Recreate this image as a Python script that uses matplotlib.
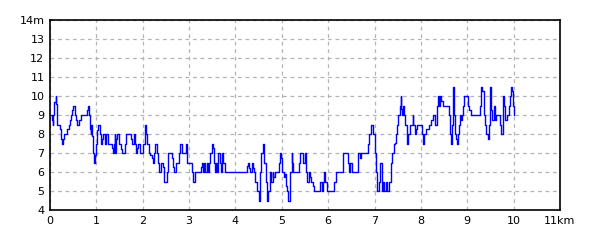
import matplotlib
matplotlib.use('Agg')
import matplotlib.pyplot as plt

# distance (km) and height (m)
dist_km = [
    0.00, 0.04, 0.06, 0.07, 0.09, 0.12, 0.13, 0.16, 0.20, 0.22, 0.23, 0.25, 0.27, 0.30, 0.34,
    0.36, 0.40, 0.42, 0.43, 0.45, 0.48, 0.50, 0.53, 0.55, 0.58, 0.61, 0.63, 0.66, 0.78, 0.80,
    0.83, 0.85, 0.86, 0.88, 0.89, 0.91, 0.92, 0.94, 0.96, 0.99, 1.01, 1.03, 1.06, 1.08, 1.11,
    1.12, 1.14, 1.18, 1.20, 1.24, 1.26, 1.32, 1.34, 1.36, 1.37, 1.40, 1.41, 1.43, 1.45, 1.49,
    1.53, 1.56, 1.60, 1.62, 1.63, 1.73, 1.75, 1.77, 1.81, 1.83, 1.86, 1.88, 1.90, 1.94, 1.99,
    2.01, 2.05, 2.07, 2.10, 2.13, 2.16, 2.19, 2.22, 2.24, 2.27, 2.30, 2.33, 2.36, 2.40, 2.43,
    2.46, 2.50, 2.52, 2.55, 2.60, 2.63, 2.65, 2.66, 2.68, 2.72, 2.76, 2.78, 2.81, 2.84, 2.88,
    2.93, 2.96, 3.05, 3.07, 3.09, 3.13, 3.22,
    3.26, 3.28, 3.30, 3.33, 3.35, 3.38, 3.40, 3.43, 3.46, 3.49, 3.52, 3.54, 3.56, 3.58, 3.61,
    3.63, 3.66, 3.68, 3.71, 3.74, 3.77, 4.20, 4.24, 4.27, 4.29, 4.32, 4.35, 4.38, 4.39, 4.43,
    4.47, 4.50, 4.52, 4.54, 4.56, 4.60, 4.62, 4.65, 4.68, 4.71, 4.74, 4.77, 4.80, 4.82, 4.86,
    4.91, 4.93, 4.96, 4.98, 5.01, 5.04, 5.07, 5.08, 5.10, 5.11, 5.13, 5.17, 5.21, 5.23, 5.25,
    5.33, 5.36, 5.40, 5.45, 5.49, 5.53, 5.55, 5.58, 5.60, 5.63, 5.67, 5.70, 5.79, 5.83, 5.86,
    5.88, 5.92, 5.94, 5.97, 6.07, 6.12, 6.17, 6.30, 6.33, 6.38, 6.42, 6.45, 6.48, 6.51, 6.60,
    6.64, 6.68, 6.70, 6.82, 6.86, 6.89, 6.93, 6.96, 7.00, 7.03, 7.06, 7.09, 7.12, 7.16, 7.18,
    7.21, 7.24, 7.26, 7.30, 7.32,
    7.35, 7.38, 7.41, 7.44, 7.46, 7.49, 7.51, 7.54, 7.56, 7.57, 7.59, 7.61, 7.63, 7.66, 7.69,
    7.71, 7.73, 7.76, 7.78, 7.82, 7.84, 7.87, 7.89, 7.92, 8.00, 8.02, 8.04, 8.07, 8.10, 8.12,
    8.17, 8.22, 8.25, 8.28, 8.31, 8.34, 8.36, 8.39, 8.41, 8.44, 8.48, 8.59, 8.60, 8.62, 8.64,
    8.66, 8.69, 8.71, 8.74, 8.76, 8.78, 8.80, 8.82, 8.84, 8.86, 8.89, 8.91, 8.94, 8.98, 9.01,
    9.04, 9.08, 9.25, 9.28, 9.30, 9.32, 9.35, 9.37, 9.39, 9.41, 9.44, 9.46, 9.49, 9.50, 9.51,
    9.54, 9.57, 9.59, 9.62, 9.67, 9.70, 9.73, 9.76, 9.78, 9.80, 9.82, 9.86, 9.89, 9.91, 9.93,
    9.95, 9.97, 9.99, 10.01,
]
height_m = [
    9, 8.75, 8.5, 9, 9.7, 10, 9.6, 8.5, 8.5, 8.25, 7.75, 7.5, 7.75, 8, 8,
    8.25, 8.5, 8.5, 8.75, 9, 9.25, 9.5, 9, 8.75, 8.5, 8.5, 8.75, 9, 9, 9.25,
    9.5, 9, 8.25, 8, 8.5, 7.9, 7, 6.5, 6.9, 7.5, 8.2, 8.5, 8.5, 8, 7.5,
    7.75, 8, 7.5, 8, 8, 7.5, 7.5, 7.25, 7, 7.5, 8, 7, 7.75, 8, 7.5,
    7.2, 7, 7, 7.5, 8, 8, 7.75, 7.5, 8, 7.5, 7, 7.25, 7.5, 7, 7,
    7.5, 8.5, 8, 7.5, 7, 6.9, 6.75, 6.5, 7, 7.5, 7, 6.5, 6, 6.5, 6.25,
    5.5, 5.5, 6, 7, 7, 6.75, 6.5, 6.25, 6, 6.5, 6.5, 7, 7.5, 7, 7,
    7.5, 6.5, 6.5, 6, 5.5, 6, 6,
    6.25, 6.5, 6, 6.5, 6, 6.5, 6, 6.5, 7, 7.5, 7.25, 6.5, 6, 6.5, 6,
    7, 6.5, 6, 7, 6.5, 6, 6, 6.3, 6.5, 6.2, 6, 6.5, 6.2, 6, 5.5,
    5, 4.5, 5, 6, 7, 7.5, 6.5, 5.5, 4.5, 5, 6, 5.5, 6, 5.75, 6,
    6, 6.5, 7, 6.75, 6, 5.75, 5.9, 5.5, 5.25, 5, 4.5, 6, 7, 6.5, 6,
    6, 6.5, 7, 6.5, 7, 6, 5.5, 6, 5.75, 5.5, 5.25, 5, 5, 5.5, 5,
    5.5, 6, 5.5, 5, 5, 5.5, 6, 6, 7, 7, 6.5, 6, 6.5, 6, 6,
    7, 6.75, 7, 7, 7.5, 8, 8.5, 8, 7, 6, 5, 5.5, 6.5, 5, 5.5,
    5, 5.5, 5, 5, 5.5,
    6.5, 7, 7.5, 7.55, 8, 8.5, 9, 9.5, 10, 9.3, 9, 9.5, 9, 8.5, 8,
    7.5, 8, 8.5, 8.5, 9, 8.5, 8, 8.25, 8.5, 8.5, 8, 7.5, 8, 8, 8.25,
    8.5, 8.75, 9, 9, 8.5, 9.5, 10, 9.5, 10, 9.75, 9.5, 9.5, 9, 8, 7.5,
    8.5, 10.5, 9, 8, 7.75, 7.5, 8, 8.5, 9, 8.75, 9, 9.5, 10, 10, 9.5,
    9.25, 9, 9, 9.5, 10.5, 10.25, 9.5, 9, 8.5, 8, 7.75, 8.5, 9, 10.5, 9.25,
    8.75, 9.5, 8.75, 9, 9, 8.5, 8, 8.5, 10, 9.5, 8.75, 9, 9.5, 9.5, 10,
    10.5, 10.25, 9.5, 9,
]

x_ticks = list(range(0, 12))
x_labels = [str(v) for v in range(0, 11)] + ['11km']
y_ticks = list(range(4, 15))
y_labels = [str(v) for v in range(4, 14)] + ['14m']

fig = plt.figure(figsize=(6, 2.4), dpi=100)
ax = fig.add_axes([50/600, 30/240, 510/600, 190/240])

ax.plot(dist_km, height_m, color='#0000ff', lw=1, drawstyle='steps-post')

ax.set_xlim(0, 11)
ax.set_ylim(4, 14)
ax.set_xticks(x_ticks)
ax.set_xticklabels(x_labels)
ax.set_yticks(y_ticks)
ax.set_yticklabels(y_labels)
ax.tick_params(length=0, labelsize=8, pad=4)
ax.grid(True, color='#b4b4b4', ls=(0, (3, 3)), lw=0.9)
for sp in ax.spines.values():
    sp.set_linewidth(1.2)

fig.savefig('out.png', dpi=100)
